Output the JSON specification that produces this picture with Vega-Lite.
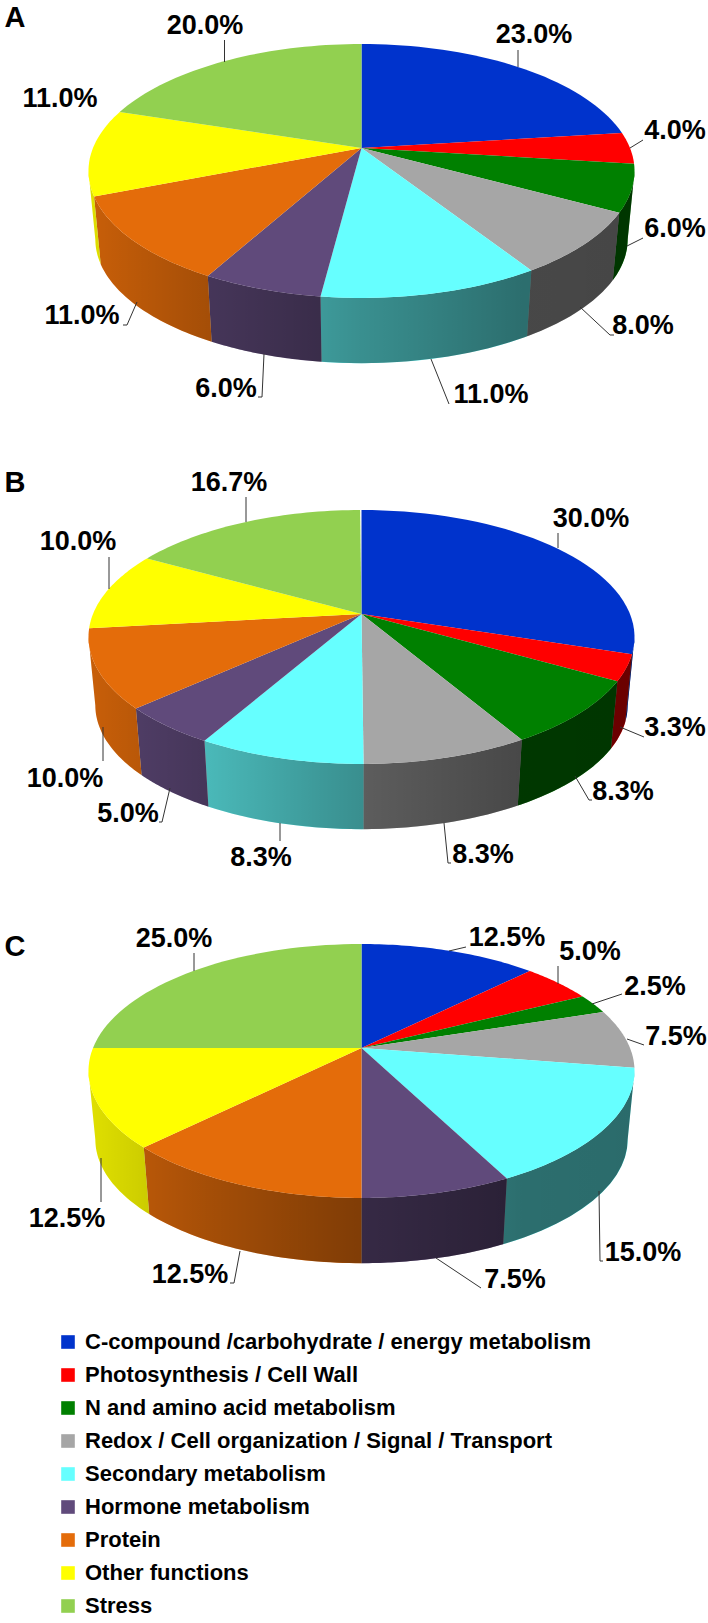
{"$schema":"https://vega.github.io/schema/vega-lite/v6.json","width":708,"height":1623,"padding":0,"autosize":{"type":"none"},"background":"white","config":{"view":{"stroke":null}},
"datasets":{
"slices":[
{"panel":"A","order":1,"category":"C-compound /carbohydrate / energy metabolism","pct":23},{"panel":"A","order":2,"category":"Photosynthesis / Cell Wall","pct":4},{"panel":"A","order":3,"category":"N and amino acid metabolism","pct":6},{"panel":"A","order":4,"category":"Redox / Cell organization / Signal / Transport","pct":8},{"panel":"A","order":5,"category":"Secondary metabolism","pct":11},{"panel":"A","order":6,"category":"Hormone metabolism","pct":6},{"panel":"A","order":7,"category":"Protein","pct":11},{"panel":"A","order":8,"category":"Other functions","pct":11},{"panel":"A","order":9,"category":"Stress","pct":20},
{"panel":"B","order":1,"category":"C-compound /carbohydrate / energy metabolism","pct":30},{"panel":"B","order":2,"category":"Photosynthesis / Cell Wall","pct":3.3},{"panel":"B","order":3,"category":"N and amino acid metabolism","pct":8.3},{"panel":"B","order":4,"category":"Redox / Cell organization / Signal / Transport","pct":8.3},{"panel":"B","order":5,"category":"Secondary metabolism","pct":8.3},{"panel":"B","order":6,"category":"Hormone metabolism","pct":5},{"panel":"B","order":7,"category":"Protein","pct":10},{"panel":"B","order":8,"category":"Other functions","pct":10},{"panel":"B","order":9,"category":"Stress","pct":16.7},
{"panel":"C","order":1,"category":"C-compound /carbohydrate / energy metabolism","pct":12.5},{"panel":"C","order":2,"category":"Photosynthesis / Cell Wall","pct":5},{"panel":"C","order":3,"category":"N and amino acid metabolism","pct":2.5},{"panel":"C","order":4,"category":"Redox / Cell organization / Signal / Transport","pct":7.5},{"panel":"C","order":5,"category":"Secondary metabolism","pct":15},{"panel":"C","order":6,"category":"Hormone metabolism","pct":7.5},{"panel":"C","order":7,"category":"Protein","pct":12.5},{"panel":"C","order":8,"category":"Other functions","pct":12.5},{"panel":"C","order":9,"category":"Stress","pct":25}
],
"labels":[
{"t":"23.0%","x":534,"y":34},{"t":"4.0%","x":675,"y":130},{"t":"6.0%","x":675,"y":228},{"t":"8.0%","x":643,"y":325},{"t":"11.0%","x":491,"y":394},{"t":"6.0%","x":226,"y":388},{"t":"11.0%","x":82,"y":315},{"t":"11.0%","x":60,"y":98},{"t":"20.0%","x":205,"y":25},
{"t":"30.0%","x":591,"y":518},{"t":"3.3%","x":675,"y":727},{"t":"8.3%","x":623,"y":791},{"t":"8.3%","x":483,"y":854},{"t":"8.3%","x":261,"y":857},{"t":"5.0%","x":128,"y":813},{"t":"10.0%","x":65,"y":778},{"t":"10.0%","x":78,"y":541},{"t":"16.7%","x":229,"y":482},
{"t":"12.5%","x":507,"y":937},{"t":"5.0%","x":590,"y":951},{"t":"2.5%","x":655,"y":986},{"t":"7.5%","x":676,"y":1036},{"t":"15.0%","x":643,"y":1252},{"t":"7.5%","x":515,"y":1279},{"t":"12.5%","x":190,"y":1274},{"t":"12.5%","x":67,"y":1218},{"t":"25.0%","x":174,"y":938}
],
"letters":[{"t":"A","x":15,"y":18},{"t":"B","x":15,"y":483},{"t":"C","x":15,"y":947}],
"leaders":[
{"id":1,"o":1,"x":518,"y":50},{"id":1,"o":2,"x":518,"y":67},
{"id":2,"o":1,"x":643,"y":140},{"id":2,"o":2,"x":630,"y":148},
{"id":3,"o":1,"x":643,"y":238},{"id":3,"o":2,"x":627,"y":246},
{"id":4,"o":1,"x":580,"y":307},{"id":4,"o":2,"x":610,"y":335},{"id":4,"o":3,"x":614,"y":335},
{"id":5,"o":1,"x":431,"y":359},{"id":5,"o":2,"x":449,"y":404},
{"id":6,"o":1,"x":264,"y":354},{"id":6,"o":2,"x":262,"y":397},{"id":6,"o":3,"x":258,"y":397},
{"id":7,"o":1,"x":137,"y":302},{"id":7,"o":2,"x":127,"y":325},{"id":7,"o":3,"x":123,"y":325},
{"id":8,"o":1,"x":224.5,"y":40},{"id":8,"o":2,"x":224.5,"y":62},
{"id":9,"o":1,"x":558,"y":533},{"id":9,"o":2,"x":558,"y":548},
{"id":10,"o":1,"x":644,"y":737},{"id":10,"o":2,"x":620,"y":727},
{"id":11,"o":1,"x":575,"y":776},{"id":11,"o":2,"x":589,"y":800},{"id":11,"o":3,"x":592,"y":800},
{"id":12,"o":1,"x":444,"y":823},{"id":12,"o":2,"x":448,"y":863},{"id":12,"o":3,"x":451,"y":863},
{"id":13,"o":1,"x":280,"y":823},{"id":13,"o":2,"x":280,"y":841},
{"id":14,"o":1,"x":170,"y":788},{"id":14,"o":2,"x":162,"y":822},{"id":14,"o":3,"x":159,"y":822},
{"id":15,"o":1,"x":103,"y":727},{"id":15,"o":2,"x":103,"y":761},
{"id":16,"o":1,"x":109,"y":557},{"id":16,"o":2,"x":109,"y":589},
{"id":17,"o":1,"x":246,"y":497},{"id":17,"o":2,"x":246,"y":522},
{"id":18,"o":1,"x":449,"y":951},{"id":18,"o":2,"x":466,"y":947},
{"id":19,"o":1,"x":558,"y":966},{"id":19,"o":2,"x":558,"y":984},
{"id":20,"o":1,"x":592,"y":1004},{"id":20,"o":2,"x":622,"y":994},
{"id":21,"o":1,"x":627,"y":1039},{"id":21,"o":2,"x":644,"y":1045},
{"id":22,"o":1,"x":599,"y":1191},{"id":22,"o":2,"x":600,"y":1261},{"id":22,"o":3,"x":603,"y":1261},
{"id":23,"o":1,"x":436,"y":1258},{"id":23,"o":2,"x":481,"y":1288},
{"id":24,"o":1,"x":240,"y":1251},{"id":24,"o":2,"x":234,"y":1283},{"id":24,"o":3,"x":230,"y":1283},
{"id":25,"o":1,"x":101,"y":1158},{"id":25,"o":2,"x":101,"y":1202},
{"id":26,"o":1,"x":194,"y":953},{"id":26,"o":2,"x":194,"y":971}
],
"panels":[{"panel":"A"},{"panel":"B"},{"panel":"C"}]
},
"encoding":{
"x":{"field":"px","type":"quantitative","axis":null,"scale":{"domain":[0,708],"nice":false,"zero":false}},
"y":{"field":"py","type":"quantitative","axis":null,"scale":{"domain":[0,1623],"reverse":true,"nice":false,"zero":false}}
},
"layer":[
{"data":{"name":"slices"},
"transform":[
{"window":[{"op":"sum","field":"pct","as":"end"}],"groupby":["panel"],"sort":[{"field":"order"}]},
{"calculate":"datum.panel==='A'?148:datum.panel==='B'?614:1048","as":"cy"},
{"calculate":"sequence(0,82)","as":"k"},{"flatten":["k"]},
{"calculate":"clamp(2*PI*(datum.end-datum.pct+datum.pct*(datum.k<=40?datum.k:81-datum.k)/40)/100,1.752,4.531)","as":"phi"},
{"calculate":"1+0.181*cos(datum.phi)","as":"den"},
{"calculate":"datum.k<=40?1:0.975","as":"s"},
{"calculate":"361.5+datum.s*268.5*sin(datum.phi)/datum.den","as":"px"},
{"calculate":"datum.cy+datum.s*(-122.8*cos(datum.phi)/datum.den)+(datum.k<=40?0:69)","as":"py"}
],
"mark":{"type":"line","filled":true,"strokeWidth":0},
"encoding":{"order":{"field":"k","type":"quantitative"},"detail":{"field":"panel"},
"color":{"field":"category","type":"nominal",
"scale":{"domain":["C-compound /carbohydrate / energy metabolism","Photosynthesis / Cell Wall","N and amino acid metabolism","Redox / Cell organization / Signal / Transport","Secondary metabolism","Hormone metabolism","Protein","Other functions","Stress"],"range":["#0033CC","#FF0000","#008000","#A6A6A6","#66FFFF","#604A7B","#E46C0A","#FFFF00","#92D050"]},
"legend":{"orient":"none","legendX":57,"legendY":1331,"title":null,"symbolType":"square","symbolSize":185,"symbolStrokeWidth":0,"labelFont":"Liberation Sans","labelFontWeight":"bold","labelFontSize":22,"labelColor":"black","labelLimit":0,"rowPadding":11,"labelOffset":6,"padding":0}}}},
{"data":{"name":"panels"},
"transform":[
{"calculate":"datum.panel==='A'?148:datum.panel==='B'?614:1048","as":"cy"},
{"calculate":"sequence(0,82)","as":"k"},{"flatten":["k"]},
{"calculate":"1.752+2.779*(datum.k<=40?datum.k:81-datum.k)/40","as":"phi"},
{"calculate":"1+0.181*cos(datum.phi)","as":"den"},
{"calculate":"datum.k<=40?1:0.975","as":"s"},
{"calculate":"361.5+datum.s*268.5*sin(datum.phi)/datum.den","as":"px"},
{"calculate":"datum.cy+datum.s*(-122.8*cos(datum.phi)/datum.den)+(datum.k<=40?0:69)","as":"py"}
],
"mark":{"type":"line","filled":true,"strokeWidth":0,"color":{"gradient":"linear","x1":0,"y1":0,"x2":1,"y2":0,"stops":[{"offset":0,"color":"rgba(0,0,0,0.12)"},{"offset":0.22,"color":"rgba(0,0,0,0.28)"},{"offset":0.425,"color":"rgba(0,0,0,0.4)"},{"offset":0.5,"color":"rgba(0,0,0,0.44)"},{"offset":0.795,"color":"rgba(0,0,0,0.57)"},{"offset":1,"color":"rgba(0,0,0,0.58)"}]}},
"encoding":{"order":{"field":"k","type":"quantitative"},"detail":{"field":"panel"}}},
{"data":{"name":"slices"},
"transform":[
{"window":[{"op":"sum","field":"pct","as":"end"}],"groupby":["panel"],"sort":[{"field":"order"}]},
{"calculate":"datum.panel==='A'?148:datum.panel==='B'?614:1048","as":"cy"},
{"calculate":"sequence(0,42)","as":"k"},{"flatten":["k"]},
{"calculate":"2*PI*(datum.end-datum.pct+datum.pct*min(datum.k,40)/40)/100","as":"phi"},
{"calculate":"1+0.181*cos(datum.phi)","as":"den"},
{"calculate":"datum.k>40?361.5:361.5+268.5*sin(datum.phi)/datum.den","as":"px"},
{"calculate":"datum.k>40?datum.cy:datum.cy-122.8*cos(datum.phi)/datum.den","as":"py"}
],
"mark":{"type":"line","filled":true,"strokeWidth":0},
"encoding":{"order":{"field":"k","type":"quantitative"},"detail":{"field":"panel"},
"color":{"field":"category","type":"nominal"}}},
{"data":{"name":"leaders"},"mark":{"type":"line","color":"#333333","strokeWidth":1},
"encoding":{"x":{"field":"x","type":"quantitative"},"y":{"field":"y","type":"quantitative"},"detail":{"field":"id"},"order":{"field":"o","type":"quantitative"}}},
{"data":{"name":"labels"},"mark":{"type":"text","font":"Liberation Sans","fontWeight":"bold","fontSize":27,"color":"black","align":"center","baseline":"middle","dy":1},
"encoding":{"x":{"field":"x","type":"quantitative"},"y":{"field":"y","type":"quantitative"},"text":{"field":"t"}}},
{"data":{"name":"letters"},"mark":{"type":"text","font":"Liberation Sans","fontWeight":"bold","fontSize":29,"color":"black","align":"center","baseline":"middle"},
"encoding":{"x":{"field":"x","type":"quantitative"},"y":{"field":"y","type":"quantitative"},"text":{"field":"t"}}}
]}
